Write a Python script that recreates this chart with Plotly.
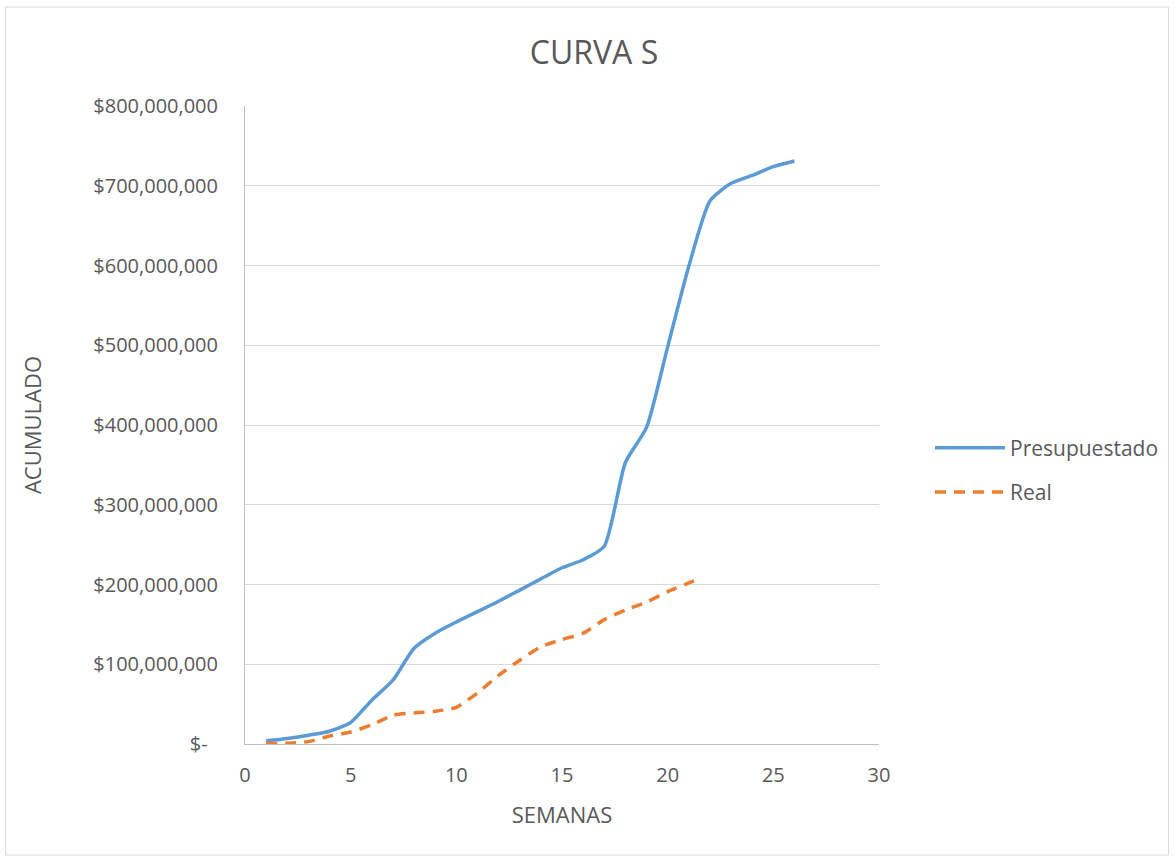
import plotly.graph_objects as go

# Data (values in pesos)
semanas_pres = list(range(1, 27))
presupuestado = [4e6, 7e6, 11e6, 16e6, 27e6, 55e6, 80e6, 120e6, 139e6, 153e6, 166e6, 179e6,
                 193e6, 207e6, 221e6, 231e6, 248e6, 353e6, 397e6, 498e6, 599e6, 681e6,
                 703e6, 713e6, 724e6, 731e6]
semanas_real = [1, 2, 3, 4, 5, 6, 7, 8, 9, 10, 11, 12, 13, 14, 15, 16, 17, 18, 19, 20, 21, 21.4]
real = [0.5e6, 1e6, 3e6, 10e6, 15e6, 24e6, 36e6, 39e6, 41e6, 46e6, 64e6, 86e6, 105e6, 122e6,
        131e6, 139e6, 156e6, 168e6, 178e6, 191e6, 202e6, 206e6]

y_ticks = [0, 100e6, 200e6, 300e6, 400e6, 500e6, 600e6, 700e6, 800e6]
y_labels = ["$-\u00a0\u00a0", "$100,000,000", "$200,000,000", "$300,000,000", "$400,000,000",
            "$500,000,000", "$600,000,000", "$700,000,000", "$800,000,000"]
x_ticks = [0, 5, 10, 15, 20, 25, 30]

FONT = "Open Sans"
GRAY = "#595959"

fig = go.Figure()
fig.add_trace(go.Scatter(x=semanas_pres, y=presupuestado, mode="lines", name="Presupuestado",
                         line=dict(color="#5B9BD5", width=3.5, shape="spline", smoothing=0.6),
                         legendgroup="a"))
fig.add_trace(go.Scatter(x=semanas_real, y=real, mode="lines", name="Real",
                         line=dict(color="#ED7D31", width=3.5, shape="spline", smoothing=0.6,
                                   dash="11px,8px"),
                         legendgroup="b"))

fig.update_layout(
    width=1175, height=859,
    margin=dict(l=245, r=295, t=106, b=115),
    paper_bgcolor="white", plot_bgcolor="white",
    font=dict(family=FONT, size=20, color=GRAY),
    title=dict(text="CURVA S", x=594/1175, xanchor="center", y=1-53/859, yanchor="middle",
               font=dict(family=FONT, size=32, color=GRAY)),
    xaxis=dict(range=[0, 30], tickvals=x_ticks, showgrid=False, zeroline=False,
               showline=True, linecolor="#BFBFBF", linewidth=1, ticks="", ticklabelstandoff=13,
               tickfont=dict(size=20, color=GRAY),
               title=dict(text="SEMANAS", font=dict(size=22, color=GRAY), standoff=20)),
    yaxis=dict(range=[0, 800e6], tickvals=y_ticks, ticktext=y_labels, showgrid=True,
               gridcolor="#D9D9D9", gridwidth=1, zeroline=False,
               showline=True, linecolor="#BFBFBF", linewidth=1, ticks="", ticklabelstandoff=22,
               tickfont=dict(size=20, color=GRAY),
               title=dict(text="ACUMULADO", font=dict(size=22, color=GRAY), standoff=45)),
    legend=dict(x=(930-245)/635, xanchor="left", y=(744-470)/638, yanchor="middle",
                font=dict(size=21, color=GRAY), traceorder="grouped", tracegroupgap=14,
                bgcolor="rgba(0,0,0,0)", itemwidth=70),
    shapes=[dict(type="rect", xref="paper", yref="paper",
                 x0=(5-245)/635, x1=(1170-245)/635, y0=(744-855)/638, y1=(744-7)/638,
                 line=dict(color="#D9D9D9", width=1), fillcolor="rgba(0,0,0,0)", layer="below")],
)

fig.write_html("out.html", config={"displayModeBar": False},
               post_script="document.body.style.margin='0px';")
